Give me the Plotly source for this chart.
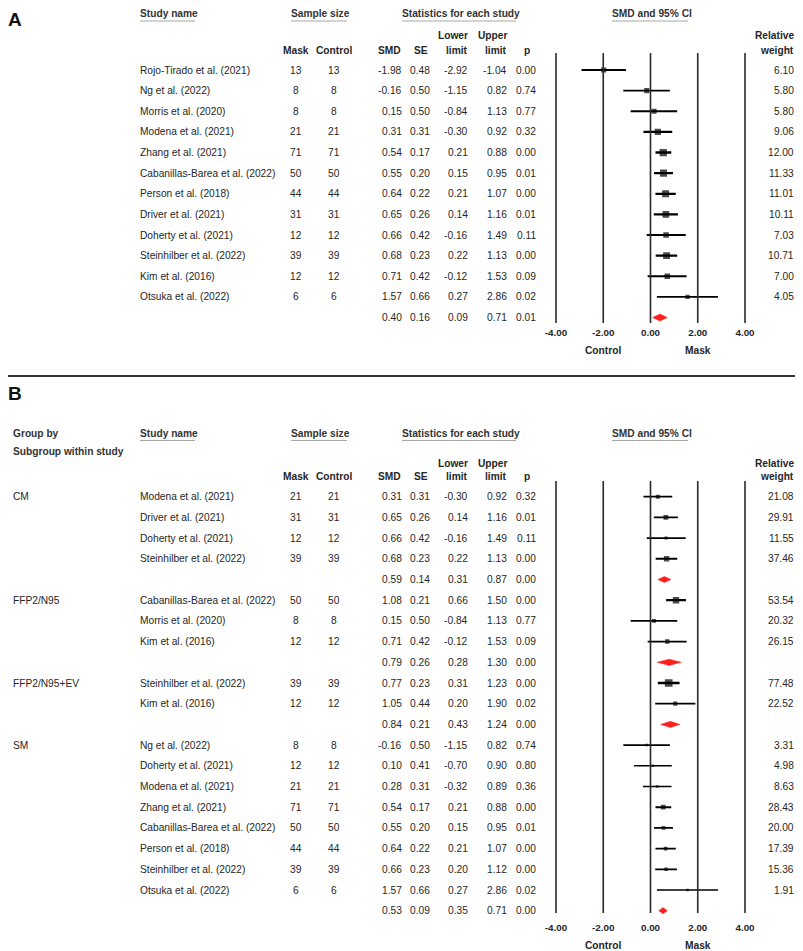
import plotly.graph_objects as go

W, H = 803, 951
OFF = 8  # page body margin of the viewer: screen px = figure px + OFF
FONT = "Liberation Sans, Arial, Helvetica, sans-serif"
TXT = "#262626"
RED = "#FF1F1F"
FS = 10.2

# ---------------- Panel A data ----------------
a_names = ["Rojo-Tirado et al. (2021)", "Ng et al. (2022)", "Morris et al. (2020)",
           "Modena et al. (2021)", "Zhang et al. (2021)", "Cabanillas-Barea et al. (2022)",
           "Person et al. (2018)", "Driver et al. (2021)", "Doherty et al. (2021)",
           "Steinhilber et al. (2022)", "Kim et al. (2016)", "Otsuka et al. (2022)"]
a_mask = [13, 8, 8, 21, 71, 50, 44, 31, 12, 39, 12, 6]
a_control = [13, 8, 8, 21, 71, 50, 44, 31, 12, 39, 12, 6]
a_smd = [-1.98, -0.16, 0.15, 0.31, 0.54, 0.55, 0.64, 0.65, 0.66, 0.68, 0.71, 1.57]
a_se = [0.48, 0.50, 0.50, 0.31, 0.17, 0.20, 0.22, 0.26, 0.42, 0.23, 0.42, 0.66]
a_lower = [-2.92, -1.15, -0.84, -0.30, 0.21, 0.15, 0.21, 0.14, -0.16, 0.22, -0.12, 0.27]
a_upper = [-1.04, 0.82, 1.13, 0.92, 0.88, 0.95, 1.07, 1.16, 1.49, 1.13, 1.53, 2.86]
a_p = [0.00, 0.74, 0.77, 0.32, 0.00, 0.01, 0.00, 0.01, 0.11, 0.00, 0.09, 0.02]
a_weight = [6.10, 5.80, 5.80, 9.06, 12.00, 11.33, 11.01, 10.11, 7.03, 10.71, 7.00, 4.05]
a_sum_smd, a_sum_se, a_sum_lower, a_sum_upper, a_sum_p = 0.40, 0.16, 0.09, 0.71, 0.01

# ---------------- Panel B data ----------------
b_group = ["CM"] * 4 + ["FFP2/N95"] * 3 + ["FFP2/N95+EV"] * 2 + ["SM"] * 8
b_names = ["Modena et al. (2021)", "Driver et al. (2021)", "Doherty et al. (2021)",
           "Steinhilber et al. (2022)",
           "Cabanillas-Barea et al. (2022)", "Morris et al. (2020)", "Kim et al. (2016)",
           "Steinhilber et al. (2022)", "Kim et al. (2016)",
           "Ng et al. (2022)", "Doherty et al. (2021)", "Modena et al. (2021)",
           "Zhang et al. (2021)", "Cabanillas-Barea et al. (2022)", "Person et al. (2018)",
           "Steinhilber et al. (2022)", "Otsuka et al. (2022)"]
b_mask = [21, 31, 12, 39, 50, 8, 12, 39, 12, 8, 12, 21, 71, 50, 44, 39, 6]
b_control = [21, 31, 12, 39, 50, 8, 12, 39, 12, 8, 12, 21, 71, 50, 44, 39, 6]
b_smd = [0.31, 0.65, 0.66, 0.68, 1.08, 0.15, 0.71, 0.77, 1.05,
         -0.16, 0.10, 0.28, 0.54, 0.55, 0.64, 0.66, 1.57]
b_se = [0.31, 0.26, 0.42, 0.23, 0.21, 0.50, 0.42, 0.23, 0.44,
        0.50, 0.41, 0.31, 0.17, 0.20, 0.22, 0.23, 0.66]
b_lower = [-0.30, 0.14, -0.16, 0.22, 0.66, -0.84, -0.12, 0.31, 0.20,
           -1.15, -0.70, -0.32, 0.21, 0.15, 0.21, 0.20, 0.27]
b_upper = [0.92, 1.16, 1.49, 1.13, 1.50, 1.13, 1.53, 1.23, 1.90,
           0.82, 0.90, 0.89, 0.88, 0.95, 1.07, 1.12, 2.86]
b_p = [0.32, 0.01, 0.11, 0.00, 0.00, 0.77, 0.09, 0.00, 0.02,
       0.74, 0.80, 0.36, 0.00, 0.01, 0.00, 0.00, 0.02]
b_weight = [21.08, 29.91, 11.55, 37.46, 53.54, 20.32, 26.15, 77.48, 22.52,
            3.31, 4.98, 8.63, 28.43, 20.00, 17.39, 15.36, 1.91]
b_sum_group = ["CM", "FFP2/N95", "FFP2/N95+EV", "SM"]
b_sum_smd = [0.59, 0.79, 0.84, 0.53]
b_sum_se = [0.14, 0.26, 0.21, 0.09]
b_sum_lower = [0.31, 0.28, 0.43, 0.35]
b_sum_upper = [0.87, 1.30, 1.24, 0.71]
b_sum_p = [0.00, 0.00, 0.00, 0.00]

axis_ticks = [-4, -2, 0, 2, 4]

# ---------------- layout geometry (screen pixels) ----------------
A_ROW0, A_STEP = 70.0, 20.63
B_ROW0, B_STEP = 496.7, 20.7
A_TOP, A_BOT = OFF, 376 + OFF
B_TOP, B_BOT = 378 + OFF, H + OFF
X_LEFT_PX, X_RIGHT_PX = 556, 745  # screen x of -4 and 4
ppu = (X_RIGHT_PX - X_LEFT_PX) / 8.0
XR = [-5, 5]
xdom = [(X_LEFT_PX - OFF - ppu) / W, (X_RIGHT_PX - OFF + ppu) / W]
WEIGHT_RIGHT = 794


def X(px):
    return (px - OFF) / W


def rowA(px):
    return (px - A_ROW0) / A_STEP


def rowB(px):
    return (px - B_ROW0) / B_STEP


COLS = {
    "group": (13, "left"), "name": (140, "left"), "mask": (296, "center"),
    "control": (334, "center"), "smd": (402, "right"), "se": (430, "right"),
    "lower": (468, "right"), "upper": (507, "right"), "p": (536, "right"),
    "weight": (WEIGHT_RIGHT, "right"),
}

annotations = []
shapes = []


def txt(col_px, anchor, y, yref, text, bold=False, size=FS, color=TXT):
    if bold:
        text = "<b>" + text + "</b>"
    annotations.append(dict(x=X(col_px), xref="paper", y=y, yref=yref, text=text,
                            xanchor=anchor, yanchor="middle", showarrow=False,
                            borderpad=0, borderwidth=0,
                            font=dict(family=FONT, size=size, color=color)))


def cell(col, y, yref, text, **kw):
    px, anchor = COLS[col]
    txt(px, anchor, y, yref, text, **kw)


def f2(v):
    return f"{v:.2f}"


def headers(rowf, yref, y1_px, y2a_px, y2b_px, groupby):
    items = [("Study name", 140, 195), ("Sample size", 291, 347),
             ("Statistics for each study", 402, 516), ("SMD and 95% CI", 612, 688)]
    for t, x0, x1 in items:
        txt(x0, "left", rowf(y1_px), yref, t, bold=True, color="#333333")
        shapes.append(dict(type="line", xref="paper", yref=yref, x0=X(x0), x1=X(x1),
                           y0=rowf(y1_px + 7.5), y1=rowf(y1_px + 7.5),
                           line=dict(color="#a8a8a8", width=1)))
    if groupby:
        txt(13, "left", rowf(y1_px), yref, "Group by", bold=True, color="#333333")
        txt(13, "left", rowf(y1_px + 18), yref, "Subgroup within study", bold=True,
            color="#333333")
    txt(296, "center", rowf(y2b_px), yref, "Mask", bold=True)
    txt(334, "center", rowf(y2b_px), yref, "Control", bold=True)
    txt(401, "right", rowf(y2b_px), yref, "SMD", bold=True)
    txt(428, "right", rowf(y2b_px), yref, "SE", bold=True)
    txt(468, "right", rowf(y2a_px), yref, "Lower", bold=True)
    txt(468, "right", rowf(y2b_px), yref, "limit", bold=True)
    txt(507, "right", rowf(y2a_px), yref, "Upper", bold=True)
    txt(507, "right", rowf(y2b_px), yref, "limit", bold=True)
    txt(527, "center", rowf(y2b_px), yref, "p", bold=True)
    txt(WEIGHT_RIGHT, "right", rowf(y2a_px), yref, "Relative", bold=True)
    txt(WEIGHT_RIGHT, "right", rowf(y2b_px), yref, "weight", bold=True)


fig = go.Figure()


def study_marks(xa, ya, rows, smd, lo, hi, sizes):
    for r, l, h, s in zip(rows, lo, hi, sizes):
        fig.add_trace(go.Scatter(x=[l, h], y=[r, r], mode="lines", xaxis=xa, yaxis=ya,
                                 line=dict(color="black", width=min(2.4, 1.2 + 0.15 * s)),
                                 hoverinfo="skip", showlegend=False))
    fig.add_trace(go.Scatter(x=smd, y=rows, mode="markers", xaxis=xa, yaxis=ya,
                             marker=dict(symbol="square", size=sizes, color="black",
                                         line=dict(width=0)),
                             showlegend=False, hoverinfo="skip"))


def diamond(xa, ya, r, m, lo, hi, hh):
    fig.add_trace(go.Scatter(x=[lo, m, hi, m, lo], y=[r, r - hh, r, r + hh, r],
                             mode="lines", fill="toself", fillcolor=RED,
                             line=dict(color=RED, width=0.5), xaxis=xa, yaxis=ya,
                             showlegend=False, hoverinfo="skip"))


# ---------------- Panel A ----------------
txt(8, "left", rowA(19), "y", "A", bold=True, size=19, color="#111111")
headers(rowA, "y", 13.5, 35, 50, False)
a_rows = list(range(len(a_names)))
for i in a_rows:
    cell("name", i, "y", a_names[i])
    cell("mask", i, "y", str(a_mask[i]))
    cell("control", i, "y", str(a_control[i]))
    cell("smd", i, "y", f2(a_smd[i]))
    cell("se", i, "y", f2(a_se[i]))
    cell("lower", i, "y", f2(a_lower[i]))
    cell("upper", i, "y", f2(a_upper[i]))
    cell("p", i, "y", f2(a_p[i]))
    cell("weight", i, "y", f2(a_weight[i]))
a_sum_row = len(a_names)
for col, v in zip(["smd", "se", "lower", "upper", "p"],
                  [a_sum_smd, a_sum_se, a_sum_lower, a_sum_upper, a_sum_p]):
    cell(col, a_sum_row, "y", f2(v))

a_sizes = [2.1 * w ** 0.5 for w in a_weight]
study_marks("x", "y", a_rows, a_smd, a_lower, a_upper, a_sizes)
diamond("x", "y", a_sum_row, a_sum_smd, a_sum_lower, a_sum_upper, 0.17)
for v in axis_ticks:
    shapes.append(dict(type="line", xref="x", yref="y", x0=v, x1=v,
                       y0=rowA(53), y1=rowA(323), line=dict(color="#2a2a2a", width=1.6)))
for lab, xv in [("Control", -2), ("Mask", 2)]:
    annotations.append(dict(x=xv, xref="x", y=rowA(350), yref="y", text="<b>%s</b>" % lab,
                            showarrow=False, borderpad=0, borderwidth=0,
                            font=dict(family=FONT, size=FS, color=TXT)))

# separator between panels
shapes.append(dict(type="line", xref="paper", yref="paper", x0=0, x1=1,
                   y0=1 - (376 - OFF) / H, y1=1 - (376 - OFF) / H,
                   line=dict(color="#333333", width=2)))

# ---------------- Panel B ----------------
txt(8, "left", rowB(393), "y2", "B", bold=True, size=19, color="#111111")
headers(rowB, "y2", 433, 463, 476, True)
row = 0
b_rows = []
b_sum_rows = []
for g in b_sum_group:
    first = True
    for k in range(len(b_names)):
        if b_group[k] != g:
            continue
        if first:
            cell("group", row, "y2", g)
            first = False
        b_rows.append(row)
        cell("name", row, "y2", b_names[k])
        cell("mask", row, "y2", str(b_mask[k]))
        cell("control", row, "y2", str(b_control[k]))
        cell("smd", row, "y2", f2(b_smd[k]))
        cell("se", row, "y2", f2(b_se[k]))
        cell("lower", row, "y2", f2(b_lower[k]))
        cell("upper", row, "y2", f2(b_upper[k]))
        cell("p", row, "y2", f2(b_p[k]))
        cell("weight", row, "y2", f2(b_weight[k]))
        row += 1
    b_sum_rows.append(row)
    row += 1

for j, r in enumerate(b_sum_rows):
    for col, arr in zip(["smd", "se", "lower", "upper", "p"],
                        [b_sum_smd, b_sum_se, b_sum_lower, b_sum_upper, b_sum_p]):
        cell(col, r, "y2", f2(arr[j]))
    diamond("x2", "y2", r, b_sum_smd[j], b_sum_lower[j], b_sum_upper[j], 0.15)

b_sizes = [max(2.5, 0.875 * w ** 0.5) for w in b_weight]
study_marks("x2", "y2", b_rows, b_smd, b_lower, b_upper, b_sizes)
for v in axis_ticks:
    shapes.append(dict(type="line", xref="x2", yref="y2", x0=v, x1=v,
                       y0=rowB(481), y1=rowB(913), line=dict(color="#2a2a2a", width=1.6)))
for lab, xv in [("Control", -2), ("Mask", 2)]:
    annotations.append(dict(x=xv, xref="x2", y=rowB(945), yref="y2", text="<b>%s</b>" % lab,
                            showarrow=False, borderpad=0, borderwidth=0,
                            font=dict(family=FONT, size=FS, color=TXT)))

tick_text = ["<b>%.2f</b>" % v for v in axis_ticks]
xcommon = dict(domain=xdom, range=XR, tickvals=axis_ticks, ticktext=tick_text,
               ticks="", showline=False, showgrid=False, zeroline=False, anchor="free",
               tickfont=dict(family=FONT, size=9.8, color=TXT), fixedrange=True)

fig.update_layout(
    width=W, height=H, margin=dict(l=0, r=0, t=0, b=0),
    paper_bgcolor="white", plot_bgcolor="rgba(0,0,0,0)", showlegend=False,
    xaxis=dict(**xcommon, position=1 - (325 - OFF) / H),
    xaxis2=dict(**xcommon, position=1 - (920 - OFF) / H),
    yaxis=dict(domain=[1 - (A_BOT - OFF) / H, 1 - (A_TOP - OFF) / H],
               range=[rowA(A_BOT), rowA(A_TOP)], visible=False, fixedrange=True),
    yaxis2=dict(domain=[0, 1 - (B_TOP - OFF) / H],
                range=[rowB(B_BOT), rowB(B_TOP)], visible=False, fixedrange=True),
    annotations=annotations, shapes=shapes,
)

fig.write_html("out.html")
